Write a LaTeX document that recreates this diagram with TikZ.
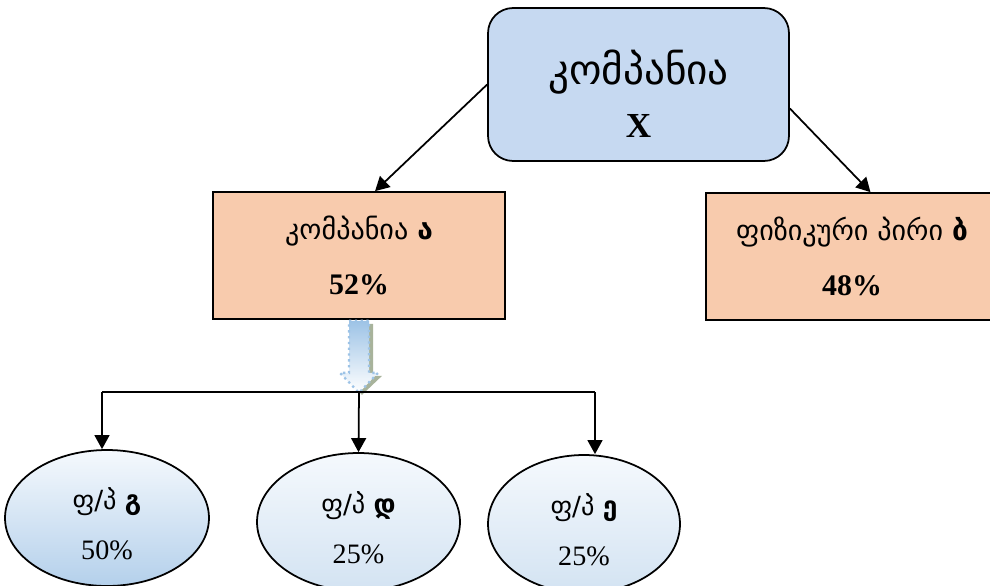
\documentclass[tikz,border=0pt]{standalone}
\usepackage{fontspec}
\setmainfont{Liberation Serif}
\newfontfamily\ka{DejaVu Sans}
\usetikzlibrary{arrows.meta,shapes.geometric,calc}

\definecolor{topblue}{HTML}{C6D9F1}
\definecolor{peach}{HTML}{F8CBAD}
\definecolor{paleblue}{HTML}{F5F9FD}
\definecolor{midblue}{HTML}{B4D0EB}
\definecolor{lightblue}{HTML}{D3E3F2}
\definecolor{arrowblue}{HTML}{9DC3E6}
\definecolor{shadowgreen}{HTML}{A8B39B}

\begin{document}
\begin{tikzpicture}[x=0.02cm, y=-0.02cm,
  topbox/.style={draw, line width=1pt, rounded corners=0.5cm, fill=topblue,
    minimum width=6.02cm, minimum height=3.06cm, align=center,
    font=\fontsize{20pt}{30pt}\selectfont, text height=60pt},
  sharebox/.style={draw, line width=1pt, fill=peach, minimum width=5.84cm,
    minimum height=2.54cm, align=center, font=\fontsize{16pt}{31pt}\selectfont},
  person/.style={draw, line width=1pt, ellipse, inner sep=0pt, align=center,
    top color=paleblue, font=\fontsize{16pt}{28pt}\selectfont, text height=47pt},
  link/.style={-{Triangle[width=8.5pt, length=8pt]}, line width=1pt}]

\useasboundingbox (0,0) rectangle (990,585);
\clip (0,0) rectangle (990,585);

\node [topbox] (x) at (638.5,84.5) {{\ka\fontsize{23.5pt}{30pt}\selectfont კომპანია}\\\textbf{X}};
\node [sharebox] (a) at (359,255.5) {{\ka კომპანია \bfseries ა}\\{\fontsize{17pt}{31pt}\selectfont\bfseries 52\%}};
\node [sharebox] (b) at (852,256.5) {{\ka ფიზიკური პირი \bfseries ბ}\\{\fontsize{17pt}{31pt}\selectfont\bfseries 48\%}};

\node [person, bottom color=midblue, minimum width=4.08cm, minimum height=2.72cm]
  (g) at (107,518) {{\ka\fontsize{15pt}{28pt}\selectfont ფ/პ \bfseries გ}\\50\%};
\node [person, bottom color=lightblue, minimum width=4.06cm, minimum height=2.76cm]
  (d) at (358.5,522) {{\ka\fontsize{15pt}{28pt}\selectfont ფ/პ \bfseries დ}\\25\%};
\node [person, bottom color=lightblue, minimum width=3.84cm, minimum height=2.76cm]
  (e) at (584,524) {{\ka\fontsize{15pt}{28pt}\selectfont ფ/პ \bfseries ე}\\25\%};

\draw [link] (x.west) -- (a.76);
\draw [link] (x.-9) -- (b.74);

% block arrow under company a
\begin{scope}[shift={(a.south)}]
\fill [shadowgreen] (-6,4) -- (14,4) -- (14,56) -- (23,56) -- (3,75) -- (-15,56) -- (-6,56) -- cycle;
\path [top color=arrowblue, bottom color=white, draw=arrowblue, dotted, line width=1.3pt]
  (-10,1) -- (10,1) -- (10,53) -- (19,53) -- (0,73) -- (-19,53) -- (-10,53) -- cycle;
\end{scope}

\coordinate (bus) at (359,392);
\coordinate (bg) at (102,392);
\coordinate (be) at (595,392);
\draw [line width=1pt] (bg) -- (be);
\draw [link] (bg) -- (bg |- g.north);
\draw [link] (bus) -- (d.north);
\draw [link] (be) -- (be |- e.north);

\end{tikzpicture}
\end{document}
